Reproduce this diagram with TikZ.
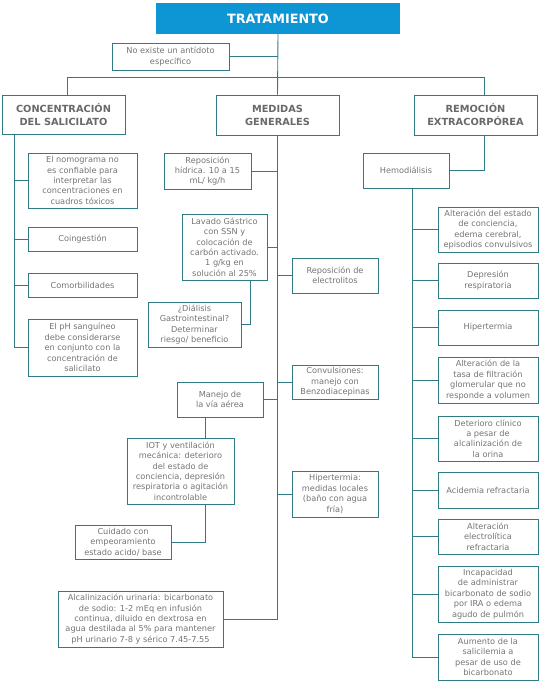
\documentclass[tikz,border=0pt]{standalone}
\usepackage{fontspec}
\setmainfont{DejaVu Sans}
\definecolor{ln}{HTML}{2F7A85}
\definecolor{ttl}{HTML}{0E95D3}
\definecolor{txt}{HTML}{757575}
\tikzset{
  bx/.style={draw=ln, line width=0.9pt, fill=white, align=center, inner sep=1pt,
     text=txt, font=\fontsize{8.2}{10.4}\selectfont},
  hd/.style={bx, font=\fontsize{9.8}{13}\selectfont\bfseries, text=txt!90!black},
  tt/.style={draw=none, fill=ttl, text=white, font=\fontsize{12.8}{14}\selectfont\bfseries},
  cn/.style={draw=ln, line width=0.9pt}
}
\newcommand\mybox[7][bx]{%
  \pgfmathsetmacro\bw{#5-#3}\pgfmathsetmacro\bh{#6-#4}%
  \node[#1, minimum width=\bw pt, minimum height=\bh pt] (#2) at ({(#3+#5)/2},{(#4+#6)/2}) {#7};}
\begin{document}
\begin{tikzpicture}[x=1pt,y=-1pt]
\useasboundingbox (0,0) rectangle (545,687);
% top
\mybox[tt]{trat}{156}{3}{400}{34}{TRATAMIENTO}
\mybox{noex}{112}{43}{229}{70}{No existe un antídoto\\específico}
\mybox[hd]{conc}{2}{95}{125}{134}{CONCENTRACIÓN\\DEL SALICILATO}
\mybox[hd]{med}{216}{95}{339}{135}{MEDIDAS\\GENERALES}
\mybox[hd]{rem}{414}{95}{537}{135}{REMOCIÓN\\EXTRACORPÓREA}
% left column
\mybox{nomo}{28}{153}{137}{208}{El nomograma no\\es confiable para\\interpretar las\\concentraciones en\\cuadros tóxicos}
\mybox{coing}{28}{227}{137}{251}{Coingestión}
\mybox{comor}{28}{273}{137}{297}{Comorbilidades}
\mybox{ph}{28}{319}{137}{376}{El pH sanguíneo\\debe considerarse\\en conjunto con la\\concentración de\\salicilato}
% middle column
\mybox{hid}{164}{153}{251}{189}{Reposición\\hídrica. 10 a 15\\mL/ kg/h}
\mybox{lav}{182}{214}{267}{280}{Lavado Gástrico\\con SSN y\\colocación de\\carbón activado.\\1 g/kg en\\solución al 25\%}
\mybox{dial}{148}{302}{241}{347}{¿Diálisis\\Gastrointestinal?\\Determinar\\riesgo/ beneficio}
\mybox{elec}{292}{258}{378}{293}{Reposición de\\electrolitos}
\mybox{conv}{292}{365}{378}{399}{Convulsiones:\\manejo con\\Benzodiacepinas}
\mybox{via}{177}{382}{263}{417}{Manejo de\\la vía aérea}
\mybox{iot}{127}{438}{234}{504}{IOT y ventilación\\mecánica: deterioro\\del estado de\\conciencia, depresión\\respiratoria o agitación\\incontrolable}
\mybox{cuid}{75}{525}{171}{559}{Cuidado con\\empeoramiento\\estado acido/ base}
\mybox{hipm}{292}{471}{378}{517}{Hipertermia:\\medidas locales\\(baño con agua\\fría)}
\mybox{alc}{58}{591}{223}{647}{Alcalinización urinaria: bicarbonato\\de sodio: 1-2 mEq en infusión\\continua, diluido en dextrosa en\\agua destilada al 5\% para mantener\\pH urinario 7-8 y sérico 7.45-7.55}
% right column
\mybox{hemo}{363}{153}{449}{188}{Hemodiálisis}
\mybox{r1}{438}{207}{538}{252}{Alteración del estado\\de conciencia,\\edema cerebral,\\episodios convulsivos}
\mybox{r2}{438}{263}{538}{298}{Depresión\\respiratoria}
\mybox{r3}{438}{310}{538}{345}{Hipertermia}
\mybox{r4}{438}{357}{538}{403}{Alteración de la\\tasa de filtración\\glomerular que no\\responde a volumen}
\mybox{r5}{438}{416}{538}{461}{Deterioro clínico\\a pesar de\\alcalinización de\\la orina}
\mybox{r6}{438}{472}{538}{508}{Acidemia refractaria}
\mybox{r7}{438}{519}{538}{554}{Alteración\\electrolítica\\refractaria}
\mybox{r8}{438}{566}{538}{622}{Incapacidad\\de administrar\\bicarbonato de sodio\\por IRA o edema\\agudo de pulmón}
\mybox{r9}{438}{634}{538}{680}{Aumento de la\\salicilemia a\\pesar de uso de\\bicarbonato}
% helper coordinates
\coordinate (hl) at (278,77);
\coordinate (ctop) at ([xshift=3.5pt]conc.north);
\coordinate (rtop) at ([xshift=9pt]rem.north);
\coordinate (rbot) at ([xshift=9pt]rem.south);
\coordinate (cbot) at ([xshift=-49.5pt]conc.south);
\coordinate (hbot) at ([xshift=6pt]hemo.south);
\coordinate (lbot) at ([xshift=25.5pt]lav.south);
\coordinate (vbot) at ([xshift=-15pt]via.south);
% connectors
\draw[cn] (trat.south) -- (med.north);
\draw[cn] (noex.east) -- (noex.east -| trat.south);
\draw[cn] (ctop) |- (rtop |- hl) -- (rtop);
\draw[cn] (cbot) |- (nomo.west);
\draw[cn] (cbot) |- (coing.west);
\draw[cn] (cbot) |- (comor.west);
\draw[cn] (cbot) |- (ph.west);
\draw[cn] (med.south) |- (alc.east);
\draw[cn] (hid.east) -- (hid.east -| med.south);
\draw[cn] (lav.east) -- (lav.east -| med.south);
\draw[cn] (elec.west) -- (elec.west -| med.south);
\draw[cn] (conv.west) -- (conv.west -| med.south);
\draw[cn] (via.east) -- (via.east -| med.south);
\draw[cn] (hipm.west) -- (hipm.west -| med.south);
\draw[cn] (dial.east) -| (lbot);
\draw[cn] (vbot) -- (vbot |- iot.north);
\draw[cn] (cuid.east) -| (vbot |- iot.south);
\draw[cn] (hemo.east) -| (rbot);
\foreach \n in {r1,r2,r3,r4,r5,r6,r7,r8,r9}{
  \draw[cn] (hbot) |- (\n.west);
}
\end{tikzpicture}
\end{document}
